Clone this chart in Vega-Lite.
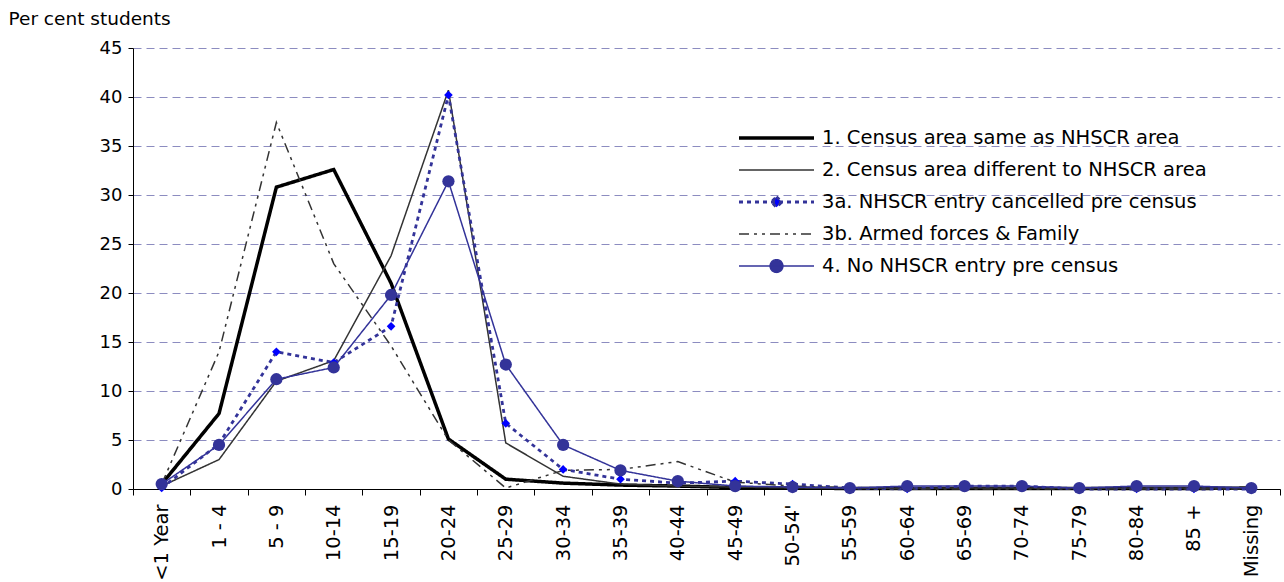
{
  "$schema": "https://vega.github.io/schema/vega-lite/v6.json",
  "width": 1147,
  "height": 441,
  "autosize": {"type": "none"},
  "padding": {"left": 133, "top": 48, "right": 4, "bottom": 93},
  "background": "white",
  "config": {"font": "DejaVu Sans", "view": {"stroke": null}},
  "datasets": {
    "d": [
      {"age": "<1 Year", "series": "1. Census area same as NHSCR area", "value": 0.5},
      {"age": "1 - 4", "series": "1. Census area same as NHSCR area", "value": 7.7},
      {"age": "5 - 9", "series": "1. Census area same as NHSCR area", "value": 30.8},
      {"age": "10-14", "series": "1. Census area same as NHSCR area", "value": 32.6},
      {"age": "15-19", "series": "1. Census area same as NHSCR area", "value": 21.0},
      {"age": "20-24", "series": "1. Census area same as NHSCR area", "value": 5.1},
      {"age": "25-29", "series": "1. Census area same as NHSCR area", "value": 1.0},
      {"age": "30-34", "series": "1. Census area same as NHSCR area", "value": 0.6},
      {"age": "35-39", "series": "1. Census area same as NHSCR area", "value": 0.4},
      {"age": "40-44", "series": "1. Census area same as NHSCR area", "value": 0.3},
      {"age": "45-49", "series": "1. Census area same as NHSCR area", "value": 0.15},
      {"age": "50-54'", "series": "1. Census area same as NHSCR area", "value": 0.1},
      {"age": "55-59", "series": "1. Census area same as NHSCR area", "value": 0.05},
      {"age": "60-64", "series": "1. Census area same as NHSCR area", "value": 0.05},
      {"age": "65-69", "series": "1. Census area same as NHSCR area", "value": 0.05},
      {"age": "70-74", "series": "1. Census area same as NHSCR area", "value": 0.05},
      {"age": "75-79", "series": "1. Census area same as NHSCR area", "value": 0.05},
      {"age": "80-84", "series": "1. Census area same as NHSCR area", "value": 0.05},
      {"age": "85 +", "series": "1. Census area same as NHSCR area", "value": 0.05},
      {"age": "Missing", "series": "1. Census area same as NHSCR area", "value": 0.1},
      {"age": "<1 Year", "series": "2. Census area different to NHSCR area", "value": 0.3},
      {"age": "1 - 4", "series": "2. Census area different to NHSCR area", "value": 3.0},
      {"age": "5 - 9", "series": "2. Census area different to NHSCR area", "value": 11.0},
      {"age": "10-14", "series": "2. Census area different to NHSCR area", "value": 13.1},
      {"age": "15-19", "series": "2. Census area different to NHSCR area", "value": 23.8},
      {"age": "20-24", "series": "2. Census area different to NHSCR area", "value": 40.7},
      {"age": "25-29", "series": "2. Census area different to NHSCR area", "value": 4.7},
      {"age": "30-34", "series": "2. Census area different to NHSCR area", "value": 1.3},
      {"age": "35-39", "series": "2. Census area different to NHSCR area", "value": 0.5},
      {"age": "40-44", "series": "2. Census area different to NHSCR area", "value": 0.3},
      {"age": "45-49", "series": "2. Census area different to NHSCR area", "value": 0.2},
      {"age": "50-54'", "series": "2. Census area different to NHSCR area", "value": 0.1},
      {"age": "55-59", "series": "2. Census area different to NHSCR area", "value": 0.05},
      {"age": "60-64", "series": "2. Census area different to NHSCR area", "value": 0.1},
      {"age": "65-69", "series": "2. Census area different to NHSCR area", "value": 0.1},
      {"age": "70-74", "series": "2. Census area different to NHSCR area", "value": 0.1},
      {"age": "75-79", "series": "2. Census area different to NHSCR area", "value": 0.05},
      {"age": "80-84", "series": "2. Census area different to NHSCR area", "value": 0.1},
      {"age": "85 +", "series": "2. Census area different to NHSCR area", "value": 0.1},
      {"age": "Missing", "series": "2. Census area different to NHSCR area", "value": 0.1},
      {"age": "<1 Year", "series": "3a. NHSCR entry cancelled pre census", "value": 0.1},
      {"age": "1 - 4", "series": "3a. NHSCR entry cancelled pre census", "value": 4.6},
      {"age": "5 - 9", "series": "3a. NHSCR entry cancelled pre census", "value": 14.0},
      {"age": "10-14", "series": "3a. NHSCR entry cancelled pre census", "value": 12.9},
      {"age": "15-19", "series": "3a. NHSCR entry cancelled pre census", "value": 16.6},
      {"age": "20-24", "series": "3a. NHSCR entry cancelled pre census", "value": 40.2},
      {"age": "25-29", "series": "3a. NHSCR entry cancelled pre census", "value": 6.7},
      {"age": "30-34", "series": "3a. NHSCR entry cancelled pre census", "value": 2.0},
      {"age": "35-39", "series": "3a. NHSCR entry cancelled pre census", "value": 1.0},
      {"age": "40-44", "series": "3a. NHSCR entry cancelled pre census", "value": 0.6},
      {"age": "45-49", "series": "3a. NHSCR entry cancelled pre census", "value": 0.8},
      {"age": "50-54'", "series": "3a. NHSCR entry cancelled pre census", "value": 0.5},
      {"age": "55-59", "series": "3a. NHSCR entry cancelled pre census", "value": 0.1},
      {"age": "60-64", "series": "3a. NHSCR entry cancelled pre census", "value": 0.0},
      {"age": "65-69", "series": "3a. NHSCR entry cancelled pre census", "value": 0.3},
      {"age": "70-74", "series": "3a. NHSCR entry cancelled pre census", "value": 0.3},
      {"age": "75-79", "series": "3a. NHSCR entry cancelled pre census", "value": 0.0},
      {"age": "80-84", "series": "3a. NHSCR entry cancelled pre census", "value": 0.0},
      {"age": "85 +", "series": "3a. NHSCR entry cancelled pre census", "value": 0.0},
      {"age": "Missing", "series": "3a. NHSCR entry cancelled pre census", "value": 0.0},
      {"age": "<1 Year", "series": "3b. Armed forces & Family", "value": 0.5},
      {"age": "1 - 4", "series": "3b. Armed forces & Family", "value": 14.0},
      {"age": "5 - 9", "series": "3b. Armed forces & Family", "value": 37.4},
      {"age": "10-14", "series": "3b. Armed forces & Family", "value": 23.0},
      {"age": "15-19", "series": "3b. Armed forces & Family", "value": 14.6},
      {"age": "20-24", "series": "3b. Armed forces & Family", "value": 5.0},
      {"age": "25-29", "series": "3b. Armed forces & Family", "value": 0.1},
      {"age": "30-34", "series": "3b. Armed forces & Family", "value": 1.9},
      {"age": "35-39", "series": "3b. Armed forces & Family", "value": 2.0},
      {"age": "40-44", "series": "3b. Armed forces & Family", "value": 2.8},
      {"age": "45-49", "series": "3b. Armed forces & Family", "value": 0.7},
      {"age": "50-54'", "series": "3b. Armed forces & Family", "value": 0.3},
      {"age": "55-59", "series": "3b. Armed forces & Family", "value": 0.1},
      {"age": "60-64", "series": "3b. Armed forces & Family", "value": 0.0},
      {"age": "65-69", "series": "3b. Armed forces & Family", "value": 0.0},
      {"age": "70-74", "series": "3b. Armed forces & Family", "value": 0.0},
      {"age": "75-79", "series": "3b. Armed forces & Family", "value": 0.0},
      {"age": "80-84", "series": "3b. Armed forces & Family", "value": 0.0},
      {"age": "85 +", "series": "3b. Armed forces & Family", "value": 0.0},
      {"age": "Missing", "series": "3b. Armed forces & Family", "value": 0.0},
      {"age": "<1 Year", "series": "4. No NHSCR entry pre census", "value": 0.5},
      {"age": "1 - 4", "series": "4. No NHSCR entry pre census", "value": 4.5},
      {"age": "5 - 9", "series": "4. No NHSCR entry pre census", "value": 11.2},
      {"age": "10-14", "series": "4. No NHSCR entry pre census", "value": 12.4},
      {"age": "15-19", "series": "4. No NHSCR entry pre census", "value": 19.8},
      {"age": "20-24", "series": "4. No NHSCR entry pre census", "value": 31.4},
      {"age": "25-29", "series": "4. No NHSCR entry pre census", "value": 12.7},
      {"age": "30-34", "series": "4. No NHSCR entry pre census", "value": 4.5},
      {"age": "35-39", "series": "4. No NHSCR entry pre census", "value": 1.9},
      {"age": "40-44", "series": "4. No NHSCR entry pre census", "value": 0.8},
      {"age": "45-49", "series": "4. No NHSCR entry pre census", "value": 0.3},
      {"age": "50-54'", "series": "4. No NHSCR entry pre census", "value": 0.2},
      {"age": "55-59", "series": "4. No NHSCR entry pre census", "value": 0.1},
      {"age": "60-64", "series": "4. No NHSCR entry pre census", "value": 0.3},
      {"age": "65-69", "series": "4. No NHSCR entry pre census", "value": 0.3},
      {"age": "70-74", "series": "4. No NHSCR entry pre census", "value": 0.3},
      {"age": "75-79", "series": "4. No NHSCR entry pre census", "value": 0.1},
      {"age": "80-84", "series": "4. No NHSCR entry pre census", "value": 0.3},
      {"age": "85 +", "series": "4. No NHSCR entry pre census", "value": 0.3},
      {"age": "Missing", "series": "4. No NHSCR entry pre census", "value": 0.1}
    ]
  },
  "data": {"name": "d"},
  "encoding": {
    "x": {
      "field": "age",
      "type": "nominal",
      "sort": ["<1 Year", "1 - 4", "5 - 9", "10-14", "15-19", "20-24", "25-29", "30-34", "35-39", "40-44", "45-49", "50-54'", "55-59", "60-64", "65-69", "70-74", "75-79", "80-84", "85 +", "Missing"],
      "scale": {"type": "band", "paddingInner": 0, "paddingOuter": 0},
      "axis": {
        "title": null,
        "labelAngle": -90,
        "labelAlign": "right",
        "labelBaseline": "middle",
        "labelFontSize": 19.5,
        "labelColor": "black",
        "labelPadding": 9,
        "tickBand": "extent",
        "ticks": true,
        "tickSize": 6,
        "tickColor": "black",
        "domainColor": "black",
        "grid": false
      }
    },
    "y": {
      "field": "value",
      "type": "quantitative",
      "scale": {"domain": [0, 45], "nice": false},
      "axis": {
        "title": "Per cent students",
        "titleAngle": 0,
        "titleAlign": "left",
        "titleBaseline": "middle",
        "titleX": -125,
        "titleY": -30,
        "titleFontSize": 18.5,
        "titleFontWeight": "normal",
        "titleColor": "black",
        "values": [0, 5, 10, 15, 20, 25, 30, 35, 40, 45],
        "grid": true,
        "gridColor": "#8c8cc0",
        "gridDash": [8, 5],
        "gridWidth": 1,
        "tickColor": "black",
        "tickSize": 5,
        "domainColor": "black",
        "labelFontSize": 18,
        "labelColor": "black",
        "labelPadding": 6
      }
    }
  },
  "layer": [
    {
      "mark": {"type": "line"},
      "encoding": {
        "color": {
          "field": "series",
          "type": "nominal",
          "scale": {
            "domain": ["1. Census area same as NHSCR area", "2. Census area different to NHSCR area", "3a. NHSCR entry cancelled pre census", "3b. Armed forces & Family", "4. No NHSCR entry pre census"],
            "range": ["#000000", "#333333", "#333399", "#333333", "#333399"]
          },
          "legend": {
            "title": null,
            "orient": "none",
            "legendX": 604,
            "legendY": 80,
            "padding": 0,
            "symbolSize": 5625,
            "symbolType": "stroke",
            "clipHeight": 20,
            "rowPadding": 12,
            "labelFontSize": 19.5,
            "labelColor": "black",
            "labelLimit": 600,
            "labelOffset": 6,
            "encode": {
              "symbols": {
                "update": {
                  "shape": {"signal": "indexof(datum.value,'3a.')==0 ? 'M-1,0H1M0,-0.14L0.14,0L0,0.14L-0.14,0Z' : indexof(datum.value,'4.')==0 ? 'M-1,0H1M0.17,0A0.17,0.17,0,1,1,-0.17,0A0.17,0.17,0,1,1,0.17,0Z' : 'stroke'"},
                  "fill": {"signal": "indexof(datum.value,'3a.')==0 ? '#0000FF' : indexof(datum.value,'4.')==0 ? '#333399' : 'transparent'"}
                }
              }
            }
          }
        },
        "strokeDash": {
          "field": "series",
          "type": "nominal",
          "scale": {
            "type": "ordinal",
            "domain": ["1. Census area same as NHSCR area", "2. Census area different to NHSCR area", "3a. NHSCR entry cancelled pre census", "3b. Armed forces & Family", "4. No NHSCR entry pre census"],
            "range": [[1, 0], [1, 0], [4, 4], [10, 5, 3, 5, 3, 5], [1, 0]]
          }
        },
        "strokeWidth": {
          "field": "series",
          "type": "nominal",
          "scale": {
            "type": "ordinal",
            "domain": ["1. Census area same as NHSCR area", "2. Census area different to NHSCR area", "3a. NHSCR entry cancelled pre census", "3b. Armed forces & Family", "4. No NHSCR entry pre census"],
            "range": [3.5, 1.5, 2.8, 1.5, 1.5]
          }
        }
      }
    },
    {
      "transform": [{"filter": "datum.series == '3a. NHSCR entry cancelled pre census'"}],
      "mark": {"type": "point", "shape": "diamond", "filled": true, "color": "#0000FF", "size": 75, "opacity": 1}
    },
    {
      "transform": [{"filter": "datum.series == '4. No NHSCR entry pre census'"}],
      "mark": {"type": "point", "shape": "circle", "filled": true, "color": "#333399", "size": 150, "opacity": 1}
    }
  ]
}
